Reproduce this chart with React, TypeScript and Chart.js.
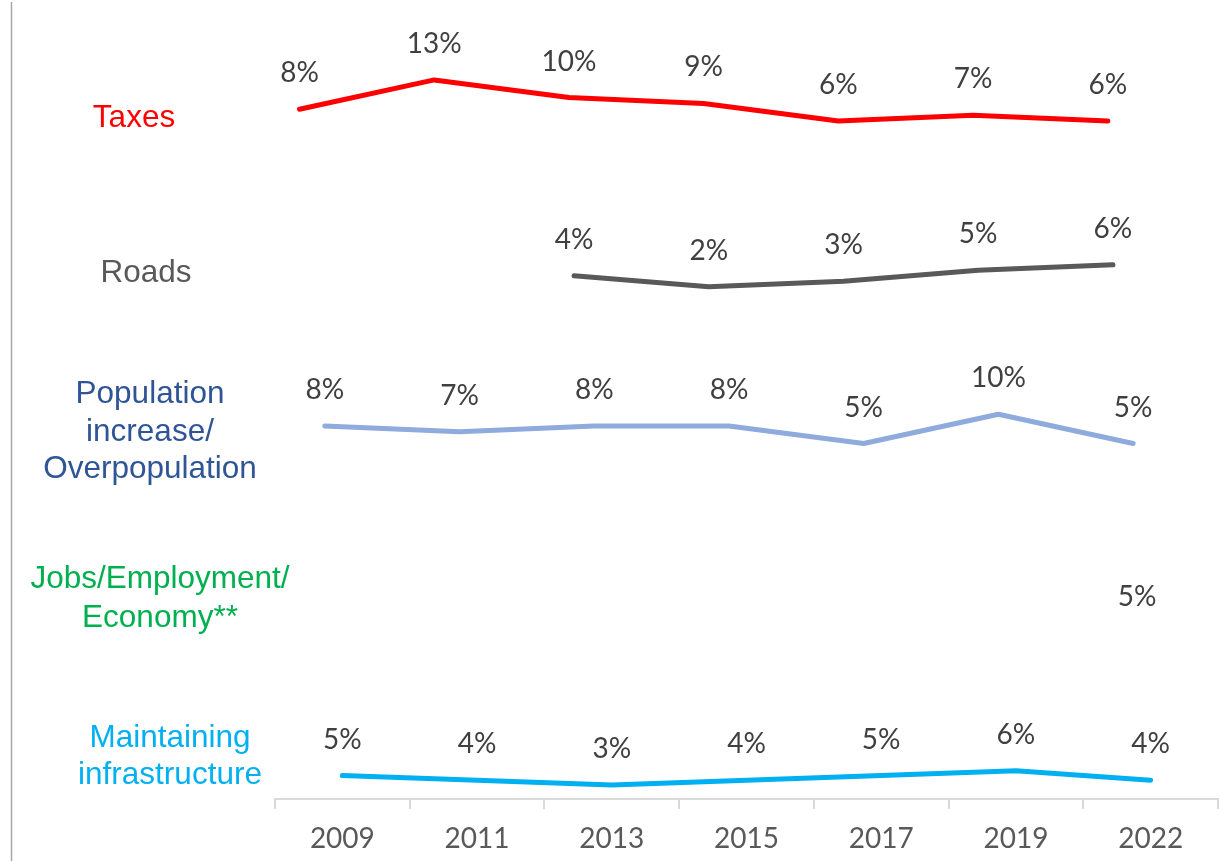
import React, { useEffect, useRef } from "react";
import { Chart, registerables } from "chart.js";

Chart.register(...registerables);

const categories = ["2009", "2011", "2013", "2015", "2017", "2019", "2022"];
const taxes = [8, 13, 10, 9, 6, 7, 6];
const roads = [null, null, 4, 2, 3, 5, 6];
const population = [8, 7, 8, 8, 5, 10, 5];
const jobs = [null, null, null, null, null, null, 5];
const maintaining = [5, 4, 3, 4, 5, 6, 4];

const seriesNames = [
  ["Taxes"],
  ["Roads"],
  ["Population", "increase/", "Overpopulation"],
  ["Jobs/Employment/", "Economy**"],
  ["Maintaining", "infrastructure"],
];

// layout of each band (vertical band base, unit scale, horizontal offset inside category)
const bands = [
  { values: taxes, base: 109.4, k: 1, dx: 0.182, color: "#FF0000", text: "#FF0000", cx: 134, baselines: [127] },
  { values: roads, base: 85.3, k: 0.94, dx: 0.22, color: "#595959", text: "#595959", cx: 146, baselines: [282] },
  { values: population, base: 55.5, k: 1, dx: 0.37, color: "#8FAADC", text: "#2F5597", cx: 150, baselines: [403, 441, 478] },
  { values: jobs, base: 23.3, k: 1, dx: 0.4, color: "#00B050", text: "#00B050", cx: 160, baselines: [588, 627] },
  { values: maintaining, base: 0, k: 0.8, dx: 0.5, color: "#00B0F0", text: "#00B0F0", cx: 170, baselines: [747, 784] },
];

const overlayPlugin = {
  id: "overlay",
  afterDatasetsDraw(chart: any) {
    const ctx = chart.ctx;
    ctx.save();
    // data labels
    ctx.font = "28px Lato";
    ctx.fillStyle = "#404040";
    ctx.textAlign = "center";
    ctx.textBaseline = "alphabetic";
    chart.data.datasets.forEach((ds: any, i: number) => {
      const meta = chart.getDatasetMeta(i);
      meta.data.forEach((pt: any, j: number) => {
        const raw = ds.data[j];
        if (!raw) return;
        ctx.fillText(raw.pct + "%", pt.x, pt.y - 27);
      });
    });
    // series names
    ctx.font = "31.5px 'Liberation Sans', Arial, sans-serif";
    bands.forEach((b, i) => {
      ctx.fillStyle = b.text;
      seriesNames[i].forEach((line, li) => {
        ctx.fillText(line, b.cx, b.baselines[li]);
      });
    });
    // left rule
    ctx.strokeStyle = "#a6a6a6";
    ctx.lineWidth = 1.5;
    ctx.beginPath();
    ctx.moveTo(11.5, 2);
    ctx.lineTo(11.5, 861);
    ctx.stroke();
    ctx.restore();
  },
};

export default function App() {
  const ref = useRef<HTMLCanvasElement | null>(null);

  useEffect(() => {
    if (!ref.current) return;
    const datasets = bands.map((b) => {
      const pts = b.values
        .map((v, i) => (v == null ? null : { x: i + b.dx, y: b.base + v * b.k, pct: v }))
        .filter((p) => p !== null);
      return {
        data: pts,
        showLine: pts.length > 1,
        borderColor: b.color,
        backgroundColor: b.color,
        borderWidth: 5,
        borderCapStyle: "round",
        borderJoinStyle: "round",
        pointRadius: 0,
        pointHoverRadius: 0,
        tension: 0,
        xAxisID: "xd",
        yAxisID: "y",
      };
    });

    const chart = new Chart(ref.current, {
      type: "line",
      data: { labels: categories, datasets: datasets as any },
      options: {
        animation: false,
        responsive: false,
        events: [],
        layout: { padding: { left: 275, right: 12, top: 0, bottom: 0 } },
        plugins: { legend: { display: false }, tooltip: { enabled: false } },
        scales: {
          x: {
            type: "category",
            position: "bottom",
            offset: true,
            grid: {
              offset: true,
              drawOnChartArea: false,
              drawTicks: true,
              tickLength: 10,
              color: "#d9d9d9",
              lineWidth: 2,
            },
            border: { display: true, color: "#d9d9d9", width: 2 },
            ticks: {
              font: { family: "Lato", size: 28 },
              color: "#595959",
              padding: 13,
              maxRotation: 0,
              autoSkip: false,
            },
            afterFit: (scale: any) => {
              scale.height = 62;
            },
          },
          xd: {
            type: "linear",
            display: false,
            min: 0,
            max: 7,
          },
          y: {
            type: "linear",
            display: false,
            min: 0,
            max: 136,
          },
        },
      },
      plugins: [overlayPlugin],
    });
    return () => chart.destroy();
  }, []);

  return (
    <div style={{ position: "fixed", left: 0, top: 0, width: 1230, height: 861, background: "#fff" }}>
      <canvas ref={ref} width={1230} height={861} style={{ display: "block", width: 1230, height: 861 }} />
    </div>
  );
}
